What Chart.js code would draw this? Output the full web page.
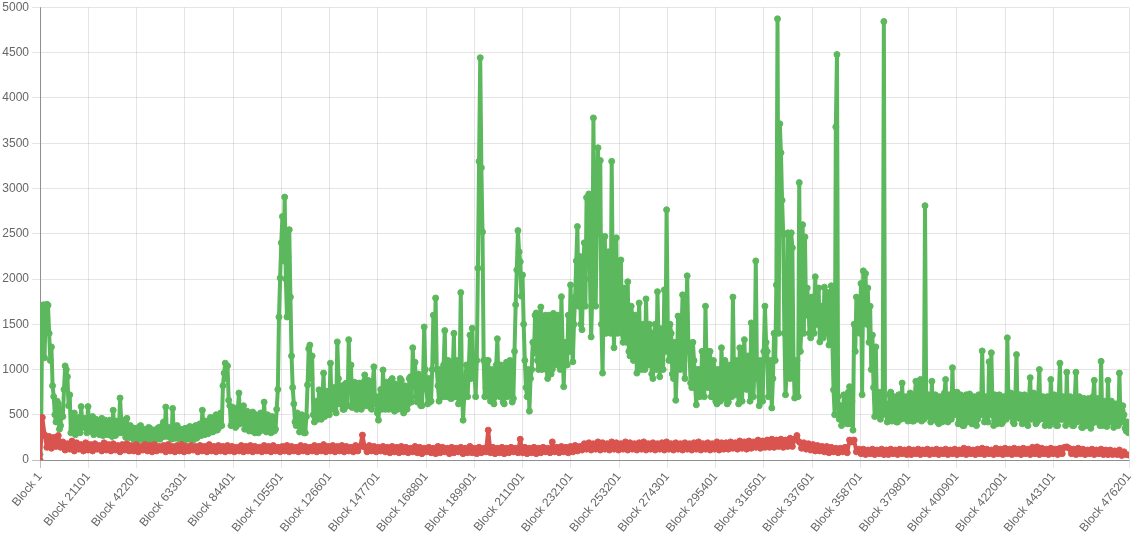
<!DOCTYPE html>
<html>
<head>
<meta charset="utf-8">
<script src="https://cdn.jsdelivr.net/npm/chart.js@4/dist/chart.umd.min.js"></script>
<style>
  html, body { margin: 0; padding: 0; background: #fff; }
  #wrap { width: 1139px; height: 533px; }
</style>
</head>
<body>
<div id="wrap"><canvas id="blockChart" width="1139" height="533"></canvas></div>
<script>
// x axis: block numbers
const firstBlock = 1;
const lastBlock = 476201;
const xTickBlocks = [1, 21101, 42201, 63301, 84401, 105501, 126601, 147701, 168801, 189901,
  211001, 232101, 253201, 274301, 295401, 316501, 337601, 358701, 379801, 400901,
  422001, 443101, 476201];
const yTicks = [0, 500, 1000, 1500, 2000, 2500, 3000, 3500, 4000, 4500, 5000];

// green series, one reading every 500 blocks
const greenStep = 500;
const greenValues = [
  60, 300, 1680, 1715, 1130, 1660, 1720, 1710, 1400, 1100, 1250, 820, 700, 500, 420, 650, 620, 340, 380, 560,
  480, 780, 1040, 1000, 920, 600, 720, 300, 350, 450, 520, 280, 330, 420, 470, 300, 590, 420, 360, 460,
  450, 300, 590, 400, 320, 460, 480, 280, 300, 450, 430, 300, 280, 420, 460, 270, 310, 440, 400, 280,
  290, 440, 400, 260, 550, 330, 270, 430, 420, 300, 685, 450, 300, 420, 380, 250, 460, 330, 250, 380,
  360, 240, 230, 350, 340, 210, 260, 370, 380, 230, 220, 340, 320, 220, 240, 360, 350, 230, 210, 330,
  330, 220, 240, 350, 360, 230, 250, 380, 420, 260, 585, 300, 260, 360, 340, 230, 570, 320, 240, 350,
  380, 240, 230, 340, 320, 220, 210, 350, 350, 230, 250, 370, 300, 220, 220, 360, 380, 240, 260, 390,
  400, 270, 550, 380, 280, 430, 420, 290, 300, 470, 460, 310, 320, 480, 500, 330, 350, 500, 520, 380,
  820, 960, 1070, 900, 1040, 660, 600, 380, 420, 580, 560, 360, 380, 560, 740, 400, 460, 580, 600, 340,
  350, 540, 500, 320, 330, 520, 530, 310, 300, 500, 450, 300, 320, 520, 480, 330, 640, 400, 310, 500,
  420, 320, 300, 480, 460, 320, 340, 560, 780, 1580, 2010, 2400, 2690, 2200, 2905, 2000, 1580, 2250, 2545, 1800,
  1150, 800, 620, 420, 380, 520, 480, 310, 320, 500, 450, 300, 300, 480, 830, 1230, 1270, 900, 1150, 500,
  420, 650, 560, 450, 775, 500, 450, 700, 960, 480, 520, 760, 680, 500, 1070, 600, 560, 800, 720, 520,
  1305, 900, 620, 820, 780, 560, 560, 840, 850, 600, 1330, 800, 1050, 580, 600, 860, 820, 560, 580, 850,
  760, 560, 600, 860, 940, 600, 650, 880, 820, 580, 560, 850, 1030, 620, 700, 520, 440, 700, 780, 560,
  995, 620, 560, 860, 820, 560, 620, 880, 900, 580, 540, 840, 760, 560, 600, 900, 880, 560, 520, 820,
  800, 560, 620, 900, 920, 640, 1240, 900, 1080, 700, 640, 950, 850, 600, 600, 900, 1470, 1000, 780, 620,
  900, 640, 650, 1000, 1600, 1100, 1790, 1000, 820, 650, 1000, 700, 700, 1050, 1430, 700, 760, 1100, 1050, 680,
  680, 1000, 1400, 700, 820, 1100, 620, 1000, 1850, 800, 440, 700, 900, 1050, 700, 1000, 1380, 900, 1455, 1000,
  980, 700, 1100, 2120, 3300, 4445, 3230, 2520, 1100, 700, 800, 1100, 1100, 700, 650, 1000, 950, 620, 700, 1050,
  1340, 800, 700, 1050, 1000, 640, 620, 1000, 1080, 700, 750, 1100, 950, 640, 680, 1200, 1715, 2100, 2535, 2300,
  2190, 1810, 2045, 1500, 1100, 800, 700, 1000, 540, 900, 1000, 1300, 1180, 1600, 1625, 1100, 1000, 1600, 1690, 1000,
  1050, 1580, 1600, 1000, 900, 1600, 1550, 950, 1000, 1620, 1600, 1050, 1100, 1600, 1500, 1000, 1805, 1300, 810, 1200,
  1300, 1050, 1600, 1200, 1935, 1400, 1085, 1500, 1800, 2200, 2580, 1700, 2250, 1500, 1440, 2000, 2400, 1700, 2900, 2200,
  2940, 2000, 1360, 1800, 3780, 2200, 1700, 2600, 3450, 2500, 3310, 1500, 960, 1800, 2470, 1400, 1500, 2300, 2200, 1400,
  3300, 1800, 1240, 2000, 2455, 1400, 1500, 2100, 2210, 1400, 1300, 1900, 1700, 1300, 1970, 1200, 1150, 1700, 1600, 1100,
  1200, 1600, 960, 1400, 1735, 1100, 1000, 1500, 1400, 1000, 1780, 1200, 1050, 1500, 1350, 950, 900, 1400, 1500, 1000,
  1860, 1300, 920, 1450, 1300, 1000, 1880, 1200, 2765, 1500, 1100, 1500, 1400, 950, 900, 1300, 660, 1000, 1590, 1100,
  1000, 1400, 1825, 1100, 900, 1400, 2035, 1300, 1200, 850, 800, 1300, 1100, 800, 610, 1000, 1000, 700, 750, 1200,
  1150, 700, 1700, 1000, 800, 1200, 1200, 700, 700, 1100, 1000, 650, 620, 1000, 900, 650, 1240, 800, 680, 1100,
  950, 620, 640, 1050, 1000, 700, 1800, 900, 720, 1100, 900, 620, 1240, 800, 650, 1100, 1330, 900, 780, 1150,
  1000, 650, 1515, 1000, 700, 1100, 2200, 1000, 900, 600, 1100, 700, 650, 1200, 1700, 1300, 1200, 700, 800, 1100,
  575, 900, 1400, 1100, 1935, 4875, 1400, 3715, 3395, 2870, 2490, 1400, 720, 1000, 2510, 1200, 900, 2510, 2345, 1100,
  685, 1000, 1100, 700, 3065, 1200, 1500, 2600, 1400, 2465, 1600, 1900, 1700, 1400, 1350, 1800, 1800, 1400, 2025, 1500,
  1500, 1900, 1305, 1700, 1700, 1350, 1910, 1500, 1400, 1850, 1270, 1700, 1925, 1300, 775, 500, 3680, 4480, 700, 450,
  600, 380, 450, 720, 700, 420, 400, 750, 810, 400, 650, 330, 1500, 1200, 1800, 1440, 1750, 1400, 1950, 720,
  2090, 1600, 2060, 1500, 1900, 1300, 1700, 1000, 1380, 800, 480, 1250, 500, 750, 600, 450, 750, 500, 4845, 600,
  620, 420, 450, 720, 750, 430, 500, 700, 680, 420, 420, 720, 720, 450, 850, 480, 460, 700, 650, 430,
  500, 740, 720, 430, 430, 700, 870, 450, 520, 750, 890, 430, 600, 450, 2810, 700, 480, 720, 700, 420,
  870, 480, 450, 720, 700, 420, 400, 700, 650, 420, 480, 740, 890, 430, 420, 720, 700, 450, 1020, 500,
  500, 720, 750, 400, 420, 720, 680, 380, 380, 700, 720, 420, 450, 730, 700, 400, 400, 700, 650, 380,
  450, 720, 700, 500, 1205, 600, 420, 700, 650, 420, 1085, 500, 1185, 600, 380, 720, 700, 400, 450, 720,
  680, 400, 420, 700, 650, 450, 1350, 600, 480, 740, 720, 420, 400, 700, 1165, 500, 460, 720, 650, 400,
  420, 720, 700, 400, 380, 700, 910, 450, 500, 740, 700, 400, 420, 720, 1000, 450, 460, 700, 650, 380,
  400, 700, 620, 380, 890, 450, 420, 720, 700, 380, 380, 700, 1070, 450, 450, 700, 650, 380, 970, 450,
  420, 700, 650, 380, 380, 680, 970, 420, 450, 700, 620, 360, 360, 680, 660, 380, 420, 680, 600, 350,
  400, 700, 880, 420, 450, 680, 620, 380, 1090, 450, 380, 650, 600, 370, 880, 420, 420, 650, 560, 360,
  380, 620, 600, 380, 960, 420, 420, 600, 500, 350, 320, 420, 300
];

// red series, one reading every 1000 blocks
const redStep = 1000;
const redValues = [
  0, 470, 280, 140, 260, 130, 250, 150, 270, 140,
  200, 110, 180, 120, 210, 100, 190, 120, 170, 100,
  190, 110, 170, 100, 180, 120, 160, 100, 190, 110,
  170, 100, 180, 110, 160, 90, 170, 110, 180, 100,
  160, 100, 170, 90, 150, 110, 170, 100, 160, 90,
  170, 100, 150, 110, 160, 90, 170, 100, 150, 90,
  160, 100, 170, 90, 150, 100, 160, 110, 150, 90,
  160, 100, 150, 90, 170, 100, 150, 90, 160, 100,
  150, 90, 160, 100, 150, 90, 140, 100, 160, 90,
  150, 100, 160, 90, 150, 100, 140, 90, 160, 100,
  150, 90, 160, 100, 140, 90, 150, 100, 160, 90,
  150, 100, 140, 90, 160, 100, 150, 90, 140, 100,
  160, 90, 150, 100, 170, 90, 150, 100, 160, 90,
  150, 100, 160, 90, 150, 100, 140, 90, 160, 100,
  150, 275, 140, 90, 160, 100, 150, 90, 140, 100,
  150, 90, 140, 80, 150, 90, 140, 80, 150, 90,
  140, 80, 130, 90, 150, 80, 140, 70, 130, 90,
  140, 80, 130, 70, 150, 80, 140, 90, 130, 70,
  140, 80, 130, 90, 140, 70, 130, 80, 150, 80,
  130, 70, 140, 80, 130, 90, 330, 80, 140, 70,
  130, 80, 140, 70, 130, 80, 140, 90, 130, 80,
  230, 80, 140, 70, 130, 80, 140, 70, 130, 80,
  140, 90, 130, 80, 200, 90, 140, 80, 150, 90,
  140, 80, 150, 90, 160, 100, 150, 110, 180, 120,
  190, 110, 180, 120, 200, 110, 190, 120, 180, 110,
  200, 120, 190, 110, 180, 120, 200, 110, 190, 120,
  180, 110, 190, 120, 200, 110, 180, 120, 190, 110,
  180, 120, 190, 110, 200, 120, 180, 110, 190, 120,
  180, 110, 190, 120, 180, 110, 190, 120, 200, 110,
  180, 120, 190, 110, 180, 120, 200, 110, 190, 120,
  190, 120, 200, 130, 190, 120, 210, 130, 200, 120,
  210, 130, 200, 140, 220, 130, 210, 140, 220, 140,
  230, 140, 220, 150, 230, 140, 220, 150, 240, 150,
  230, 270, 200, 130, 190, 120, 180, 110, 170, 100,
  160, 100, 150, 90, 150, 80, 140, 90, 130, 80,
  130, 90, 140, 80, 220, 200, 220, 90, 120, 70,
  120, 60, 110, 70, 120, 60, 110, 70, 120, 60,
  110, 60, 120, 70, 110, 60, 120, 70, 110, 60,
  120, 60, 110, 70, 120, 60, 110, 70, 120, 60,
  110, 70, 120, 60, 110, 70, 120, 60, 110, 70,
  120, 60, 110, 70, 130, 60, 120, 70, 110, 60,
  120, 70, 130, 60, 120, 70, 110, 60, 130, 70,
  120, 60, 130, 70, 120, 60, 130, 70, 120, 60,
  130, 70, 120, 60, 140, 70, 145, 60, 130, 70,
  120, 60, 130, 70, 120, 60, 130, 70, 140, 145,
  130, 70, 120, 60, 130, 70, 120, 60, 110, 70,
  120, 60, 110, 70, 120, 60, 110, 60, 110, 60,
  100, 60, 110, 50, 90, 60, 55
];

const toPoints = (values, step) => values.map((v, i) => ({ x: firstBlock + i * step, y: v }));

const GREEN = "#5cb85c";
const RED = "#d9534f";
const GRID = "rgba(0,0,0,0.1)";
const ZERO = "rgba(0,0,0,0.25)";

Chart.defaults.font.family = "'Liberation Sans', Arial, sans-serif";
Chart.defaults.font.size = 12;
Chart.defaults.color = "#666";

function lineSet(label, values, step, colour) {
  return {
    label,
    data: toPoints(values, step),
    borderColor: colour,
    backgroundColor: colour,
    pointBackgroundColor: colour,
    pointBorderColor: colour,
    borderWidth: 4,
    borderJoinStyle: "round",
    borderCapStyle: "round",
    pointRadius: 3,
    pointBorderWidth: 1,
    fill: false,
    tension: 0
  };
}

const ctx = document.getElementById("blockChart").getContext("2d");
new Chart(ctx, {
  type: "line",
  data: {
    datasets: [
      lineSet("Red", redValues, redStep, RED),
      lineSet("Green", greenValues, greenStep, GREEN)
    ]
  },
  options: {
    responsive: false,
    animation: false,
    layout: { padding: { right: 10, top: 0 } },
    plugins: { legend: { display: false }, tooltip: { enabled: false } },
    scales: {
      x: {
        type: "linear",
        min: firstBlock,
        max: lastBlock,
        afterBuildTicks: s => { s.ticks = xTickBlocks.map(v => ({ value: v })); },
        afterFit: s => { s.height = 73; s.paddingRight = 0; },
        ticks: {
          autoSkip: false,
          minRotation: 50,
          maxRotation: 50,
          padding: 2,
          callback: v => "Block " + v
        },
        grid: {
          color: c => (c.tick && c.tick.value === firstBlock ? ZERO : GRID),
          tickLength: 8
        },
        border: { color: ZERO }
      },
      y: {
        min: 0,
        max: 5000,
        afterBuildTicks: s => { s.ticks = yTicks.map(v => ({ value: v })); },
        afterFit: s => { s.width = 40; s.paddingTop = 7.5; },
        ticks: { padding: 3, callback: v => String(v) },
        grid: {
          color: c => (c.tick && c.tick.value === 0 ? ZERO : GRID),
          tickLength: 8
        },
        border: { color: ZERO }
      }
    }
  }
});
</script>
</body>
</html>
